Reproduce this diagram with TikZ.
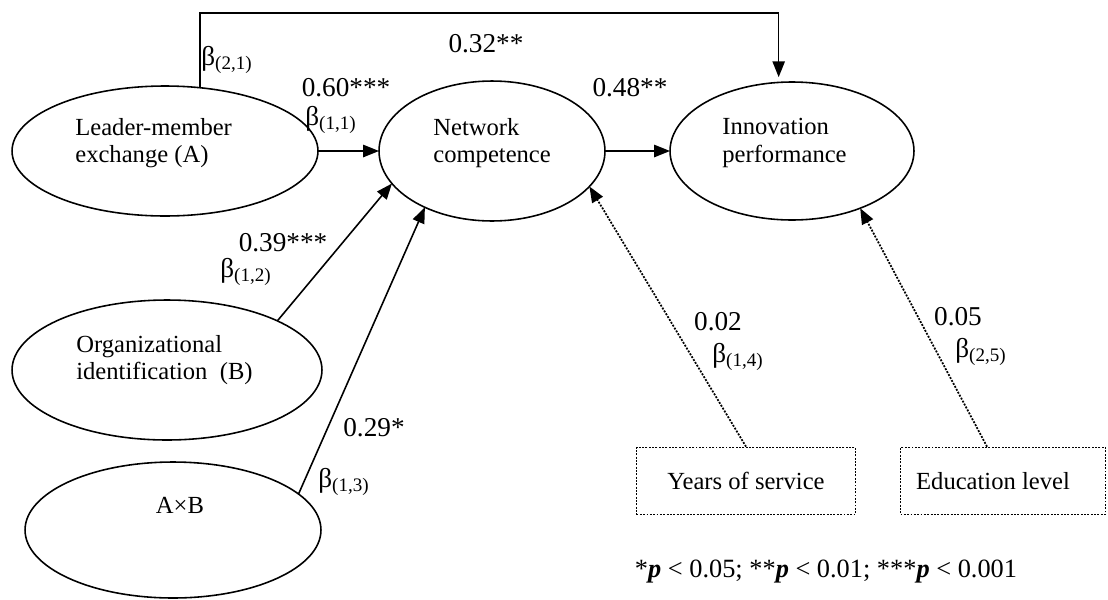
\documentclass[tikz,border=0pt]{standalone}
\usepackage{fontspec}
\setmainfont{Liberation Serif}
\usetikzlibrary{arrows.meta,shapes.geometric}
\tikzset{
  >={Triangle[length=9pt,width=7pt]},
  platent/.style={ellipse, draw=black, line width=0.9pt, inner sep=0pt, outer sep=0pt},
  pctrl/.style={rectangle, draw=black, line width=1pt, dash pattern=on 1.1pt off 0.8pt,
                inner sep=0pt, font=\fontsize{14}{16}\selectfont},
  pvar/.style={align=left, font=\fontsize{14}{15.5}\selectfont, inner sep=0pt},
  ppath/.style={->, line width=0.9pt},
  pcpath/.style={->, line width=1pt, dash pattern=on 1.1pt off 0.8pt},
  pcoef/.style={font=\fontsize{15.5}{17}\selectfont, inner sep=0pt},
  pbeta/.style={font=\fontsize{15.5}{17}\selectfont, inner sep=0pt, anchor=west},
}
\newcommand{\pb}[1]{β\textsubscript{(#1)}}

\begin{document}
\begin{tikzpicture}[x=0.02cm,y=-0.02cm]
  \useasboundingbox (0,0) rectangle (1108,599);

  % latent variables
  \node[platent, minimum width=6.12cm, minimum height=2.6cm]  (lmx) at (165,151) {};
  \node[platent, minimum width=6.2cm,  minimum height=2.8cm]  (oid) at (167,370) {};
  \node[platent, minimum width=5.92cm, minimum height=2.72cm] (axb) at (173,530) {};
  \node[platent, minimum width=4.52cm, minimum height=2.8cm]  (net) at (492,151) {};
  \node[platent, minimum width=4.88cm, minimum height=2.76cm] (inn) at (792,151) {};

  \node[pvar, anchor=west] (tlmx) at (75,143)  {Leader-member\\exchange (A)};
  \node[pvar, anchor=west] (toid) at (76,360)  {Organizational\\identification\ \ (B)};
  \node[pvar]              (taxb) at (180,505) {A×B};
  \node[pvar, anchor=west] (tnet) at (433,143) {Network\\competence};
  \node[pvar, anchor=west] (tinn) at (722,143) {Innovation\\performance};

  % control variables
  \node[pctrl, minimum width=4.38cm, minimum height=1.34cm] (yrs) at (746,481) {Years of service};
  \node[pctrl, minimum width=4.1cm,  minimum height=1.34cm] (edu) at (1003,481) {Education level\hspace*{0.4cm}};

  % paths
  \coordinate (top) at (200,13);
  \draw[ppath, shorten >=3pt] (lmx.61) |- (inn.101 |- top) -- (inn.101);
  \draw[ppath] (lmx) -- (net);
  \draw[ppath] (net) -- (inn);
  \draw[ppath] (oid.24) -- (net.198);
  \draw[ppath] (axb.16) -- (net.220);
  \draw[pcpath] (yrs.north) -- (net.340);
  \draw[pcpath] ([xshift=-0.32cm]edu.north) -- (inn.320);

  % coefficients
  \node[pbeta] (b21) at (201,60)  {\pb{2,1}};
  \node[pcoef] (c21) at (486,44)  {0.32**};
  \node[pcoef] (c11) at (346,88)  {0.60***};
  \node[pbeta] (b11) at (305,120) {\pb{1,1}};
  \node[pcoef] (cni) at (630,88)  {0.48**};
  \node[pcoef] (c12) at (283,243) {0.39***};
  \node[pbeta] (b12) at (220,272) {\pb{1,2}};
  \node[pcoef] (c13) at (374,428) {0.29*};
  \node[pbeta] (b13) at (318,482) {\pb{1,3}};
  \node[pcoef] (c14) at (718,322) {0.02};
  \node[pbeta] (b14) at (712,357) {\pb{1,4}};
  \node[pcoef] (c25) at (958,317) {0.05};
  \node[pbeta] (b25) at (955,352) {\pb{2,5}};

  \node[font=\fontsize{15}{17}\selectfont, inner sep=0pt] (note) at (826,572)
    {*\textbf{\textit{p}} < 0.05; **\textbf{\textit{p}} < 0.01; ***\textbf{\textit{p}} < 0.001};

\end{tikzpicture}
\end{document}
